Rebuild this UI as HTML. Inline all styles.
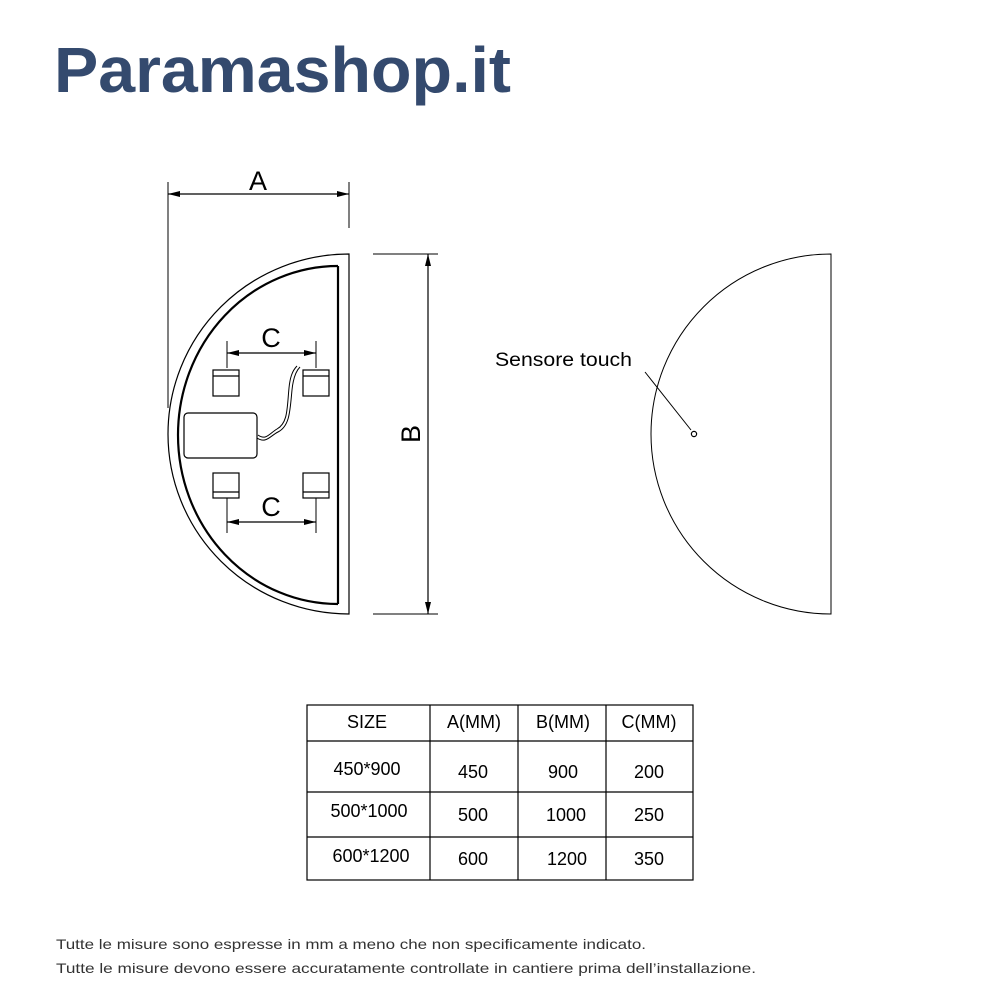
<!DOCTYPE html>
<html><head><meta charset="utf-8"><style>
html,body{margin:0;padding:0;background:#fff;width:1000px;height:1000px;overflow:hidden}
svg{display:block}
</style></head><body>
<svg width="1000" height="1000" viewBox="0 0 1000 1000" xmlns="http://www.w3.org/2000/svg">
<defs>
<marker id="ar" viewBox="0 0 12 6" refX="12" refY="3" markerWidth="12" markerHeight="6" orient="auto-start-reverse" markerUnits="userSpaceOnUse"><path d="M0,0 L12,3 L0,6 Z" fill="#000"/></marker>
</defs>
<text x="54" y="92" font-family="Liberation Sans, sans-serif" font-weight="bold" font-size="64" fill="#344a6e" textLength="457" lengthAdjust="spacingAndGlyphs">Paramashop.it</text>

<g fill="none" stroke="#000" stroke-width="1.2">
<path d="M349,254 A181,180 0 0 0 349,614 Z"/>
<path d="M338,266 A160,169 0 0 0 338,604" stroke-width="2.2"/>
<line x1="338" y1="266" x2="338" y2="604" stroke-width="2.2"/>
<line x1="168" y1="182" x2="168" y2="408" stroke-width="1"/>
<line x1="349" y1="182" x2="349" y2="228" stroke-width="1"/>
<line x1="168" y1="194" x2="349" y2="194" marker-start="url(#ar)" marker-end="url(#ar)"/>
<line x1="373" y1="254" x2="438" y2="254" stroke-width="1"/>
<line x1="373" y1="614" x2="438" y2="614" stroke-width="1"/>
<line x1="428" y1="254" x2="428" y2="614" marker-start="url(#ar)" marker-end="url(#ar)"/>
<line x1="227" y1="341" x2="227" y2="368" stroke-width="1"/>
<line x1="316" y1="341" x2="316" y2="368" stroke-width="1"/>
<line x1="227" y1="353" x2="316" y2="353" marker-start="url(#ar)" marker-end="url(#ar)"/>
<line x1="227" y1="498" x2="227" y2="533" stroke-width="1"/>
<line x1="316" y1="498" x2="316" y2="533" stroke-width="1"/>
<line x1="227" y1="522" x2="316" y2="522" marker-start="url(#ar)" marker-end="url(#ar)"/>
<rect x="213" y="370" width="26" height="26"/><line x1="213" y1="376" x2="239" y2="376"/>
<rect x="303" y="370" width="26" height="26"/><line x1="303" y1="376" x2="329" y2="376"/>
<rect x="213" y="473" width="26" height="25"/><line x1="213" y1="492" x2="239" y2="492"/>
<rect x="303" y="473" width="26" height="25"/><line x1="303" y1="492" x2="329" y2="492"/>
<rect x="184" y="413" width="73" height="45" rx="4"/>
<path d="M257,438 C266,444 270,436 278,432 C290,426 290,410 292,390 C293,380 295,372 300,367" stroke-width="1"/>
<path d="M258,435 C266,441 270,433 277,429 C288,423 287,408 289,388 C290,378 292,371 297,366" stroke-width="1"/>
<path d="M831,254 A180,180 0 0 0 831,614 Z" stroke-width="1"/>
<circle cx="694" cy="434" r="2.6"/>
<line x1="645" y1="372" x2="691" y2="430" stroke-width="1"/>
</g>
<g font-family="Liberation Sans, sans-serif" fill="#000">
<text x="258" y="190" font-size="27" text-anchor="middle">A</text>
<text x="271" y="347" font-size="27" text-anchor="middle">C</text>
<text x="271" y="516" font-size="27" text-anchor="middle">C</text>
<text transform="translate(420,434) rotate(-90)" font-size="27" text-anchor="middle">B</text>
<text x="495" y="366" font-size="19" textLength="137" lengthAdjust="spacingAndGlyphs">Sensore touch</text>
</g>
<g fill="none" stroke="#000" stroke-width="1.2">
<rect x="307" y="705" width="386" height="175"/>
<line x1="307" y1="741" x2="693" y2="741"/>
<line x1="307" y1="792" x2="693" y2="792"/>
<line x1="307" y1="837" x2="693" y2="837"/>
<line x1="430" y1="705" x2="430" y2="880"/>
<line x1="518" y1="705" x2="518" y2="880"/>
<line x1="606" y1="705" x2="606" y2="880"/>
</g>
<g font-family="Liberation Sans, sans-serif" font-size="18" fill="#000" text-anchor="middle">
<text x="367" y="728">SIZE</text><text x="474" y="728">A(MM)</text><text x="563" y="728">B(MM)</text><text x="649" y="728">C(MM)</text>
<text x="367" y="775">450*900</text><text x="473" y="778">450</text><text x="563" y="778">900</text><text x="649" y="778">200</text>
<text x="369" y="817">500*1000</text><text x="473" y="821">500</text><text x="566" y="821">1000</text><text x="649" y="821">250</text>
<text x="371" y="862">600*1200</text><text x="473" y="865">600</text><text x="567" y="865">1200</text><text x="649" y="865">350</text>
</g>
<g font-family="Liberation Sans, sans-serif" font-size="14" fill="#333">
<text x="56" y="949" textLength="590" lengthAdjust="spacingAndGlyphs">Tutte le misure sono espresse in mm a meno che non specificamente indicato.</text>
<text x="56" y="973" textLength="700" lengthAdjust="spacingAndGlyphs">Tutte le misure devono essere accuratamente controllate in cantiere prima dell’installazione.</text>
</g>
</svg>
</body></html>
